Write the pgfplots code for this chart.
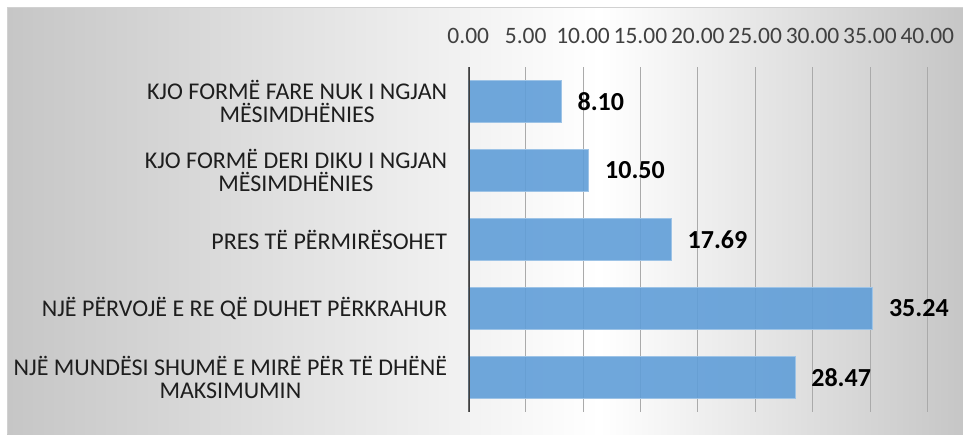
\documentclass[border=0pt]{standalone}
\usepackage{pgfplots}
\pgfplotsset{compat=1.18}
\usepackage{fontspec}
\setmainfont{Carlito}
\definecolor{barfill}{RGB}{96,158,216}
\definecolor{barline}{RGB}{157,195,230}
\definecolor{bgray}{RGB}{198,198,198}
\definecolor{gridc}{RGB}{170,170,170}
\definecolor{axisc}{RGB}{64,64,64}
\definecolor{txt}{RGB}{30,30,30}
\pgfdeclarehorizontalshading{bgshade}{100bp}{color(0bp)=(bgray); color(25bp)=(bgray); color(56bp)=(white); color(75bp)=(bgray); color(100bp)=(bgray)}
\begin{document}
\begin{tikzpicture}[x=1pt,y=1pt]
\path[use as bounding box] (0,0) rectangle (963,-434);
\fill[white] (0,0) rectangle (963,-434);
\shade[shading=bgshade] (7,-7) rectangle (963,-434);
\draw[line width=0.75pt, color=black!18] (7,-434) -- (7,-7) -- (963,-7);
\begin{axis}[
  at={(468.3pt,-67pt)}, anchor=north west,
  scale only axis, width=459pt, height=345pt,
  xmin=0, xmax=40, ymin=0.5, ymax=5.5, y dir=reverse,
  xbar, bar width=41.5pt, bar shift=0pt,
  axis line style={draw=none}, tick style={draw=none},
  major tick length=0pt,
  xtick={0,5,...,40}, xticklabel pos=upper,
  xmajorgrids, grid style={color=gridc, line width=0.75pt},
  xticklabel style={font=\fontsize{23.5}{23.5}\selectfont, text=axisc, anchor=base, inner sep=0pt, yshift=24pt},
  /pgf/number format/.cd, fixed, fixed zerofill, precision=2, assume math mode=true, /pgfplots/.cd,
  ytick={1,2,3,4,5},
  yticklabels={{KJO FORMË FARE NUK I NGJAN\\MËSIMDHËNIES},{KJO FORMË DERI DIKU I NGJAN\\MËSIMDHËNIES},{PRES TË PËRMIRËSOHET},{NJË PËRVOJË E RE QË DUHET PËRKRAHUR},{NJË MUNDËSI SHUMË E MIRË PËR TË DHËNË\\MAKSIMUMIN}},
  yticklabel style={font=\fontsize{24}{22.5}\selectfont, text=txt, align=center, anchor=east, inner sep=0pt, xshift=-21pt},
  nodes near coords,
  nodes near coords style={font=\bfseries\fontsize{26}{26}\selectfont, text=black, anchor=west, inner sep=0pt, xshift=16pt, /pgf/number format/.cd, fixed, fixed zerofill, precision=2},
]
\addplot[fill=barfill, fill opacity=0.9, text opacity=1, draw=barline, line width=0.75pt] coordinates {(8.10,1) (10.50,2) (17.69,3) (35.24,4) (28.47,5)};
\draw[line width=3pt, color=axisc] (axis cs:0,0.5) -- (axis cs:0,5.5);
\end{axis}
\end{tikzpicture}
\end{document}
